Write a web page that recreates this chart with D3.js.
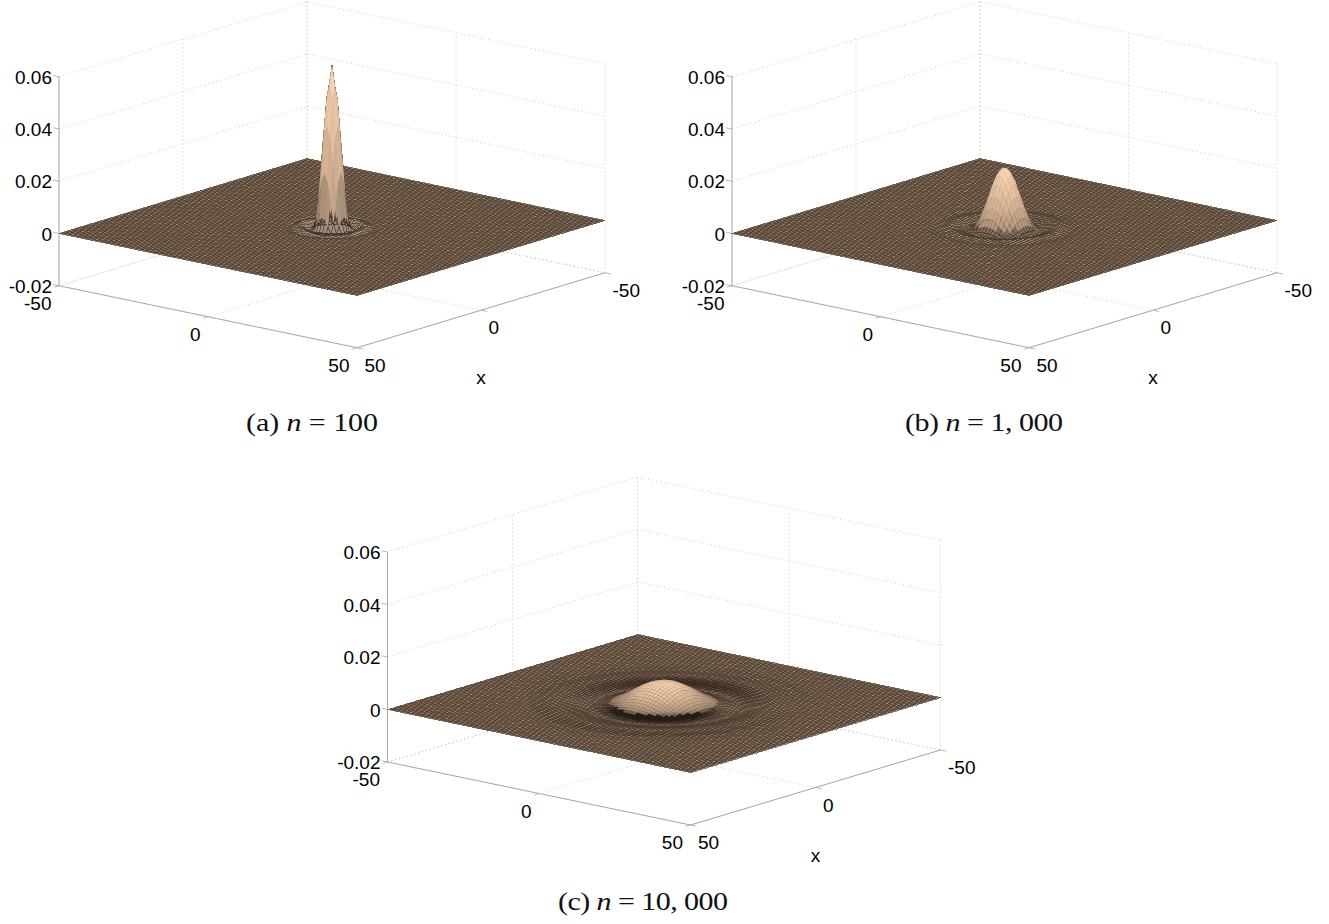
<!DOCTYPE html>
<html><head><meta charset="utf-8">
<script src="https://cdn.jsdelivr.net/npm/d3@7/dist/d3.min.js"></script>
<style>html,body{margin:0;padding:0;background:#fff}svg{display:block}
.tick{font-family:"Liberation Sans",Arial,sans-serif;font-size:19px;fill:#000}
.cap{font-family:"Liberation Serif",serif;font-size:25px;fill:#111}</style>
</head><body><svg id="c" width="1329" height="924"></svg>
<script>
// --- data ---
const zTicks = [-0.02, 0, 0.02, 0.04, 0.06];
const xTicks = [-50, 0, 50];
const yTicks = [-50, 0, 50];
const radiiA = [0,0.5,1,1.5,2,2.5,3,3.5,4,4.5,5,5.5,6,7,8,9,10,11,12];
const surfaceA = [.062,.059,.054,.048,.039,.030,.021,.012,.0045,.001,-.0006,-.0012,-.0012,-.0004,.0005,.0006,.0001,-.0003,0];
const radiiB = [0,1,2,3,4,5,6,7,8,9,10,11,12,13,14,15,16,17,18,19,20];
const surfaceB = [.0227,.0222,.0201,.0168,.0125,.0083,.0046,.0018,0,-.0008,-.001,-.0007,-.0002,.0002,.0004,.0003,.0001,-.0001,-.0002,-.0001,0];
const radiiC = [0,2,4,6,8,10,12,14,16,18,20,22,24,26,28,30,32,34,36,38];
const surfaceC = [.0085,.0083,.0075,.0062,.0046,.0029,.0014,.0003,-.0006,-.0011,-.0011,-.0007,-.0002,.0002,.0004,.0003,.0001,-.0001,-.0001,0];
const captionPrefix = ["(a) ","(b) ","(c) "];
const captionSuffix = [" = 100"," = 1, 000"," = 10, 000"];

const layouts = [
 {cx:332,  cy:227, xv:[-248,75], yv:[298,62], zy:2612, capX:246, capW:132, capY:431, radii:radiiA, heights:surfaceA, dark:250, shadowCap:.18, frontCap:.05, lat:1.2, lift:.3, liftR:10},
 {cx:1004.5,cy:227,xv:[-248,75], yv:[297,62], zy:2612, capX:905, capW:158, capY:431, radii:radiiB, heights:surfaceB, dark:700, shadowCap:.3, frontCap:.08, lat:.5, lift:.12, liftR:17},
 {cx:664,  cy:703.5,xv:[-250,75], yv:[303,63], zy:2625, capX:558, capW:170, capY:910, radii:radiiC, heights:surfaceC, dark:2300, shadowCap:.85, frontCap:.3, lat:.2, lift:.05, liftR:16}
];
const svg = d3.select("#c");
const shade = d3.scaleLinear().domain([0,.35,.7,1]).range(["#0d0704","#a8917b","#d2b092","#fcd6b4"]).clamp(true);
const band = d3.scaleQuantize().domain([0,1]).range(d3.range(0,1.0001,1/22));

layouts.forEach((L,i)=>{
  const g = svg.append("g");
  const px = d3.scaleLinear().domain([-50,50]).range([-L.xv[0]/2, L.xv[0]/2]);
  const py = d3.scaleLinear().domain([-50,50]).range([-L.xv[1]/2, L.xv[1]/2]);
  const qx = d3.scaleLinear().domain([-50,50]).range([-L.yv[0]/2, L.yv[0]/2]);
  const qy = d3.scaleLinear().domain([-50,50]).range([-L.yv[1]/2, L.yv[1]/2]);
  const zs = d3.scaleLinear().domain([0,1]).range([0,-L.zy]);
  const P = (x,y,z)=>[L.cx+px(x)+qx(y), L.cy+py(x)+qy(y)+zs(z)];
  const line = d3.line();
  const zMin = zTicks[0], zMax = zTicks[zTicks.length-1];

  // dotted grid
  const gridPaths = [];
  zTicks.forEach(z=>{ gridPaths.push([P(50,-50,z),P(-50,-50,z),P(-50,50,z)]); });
  xTicks.forEach(x=>{ gridPaths.push([P(x,-50,zMin),P(x,-50,zMax)]); gridPaths.push([P(x,-50,zMin),P(x,50,zMin)]); });
  yTicks.forEach(y=>{ gridPaths.push([P(-50,y,zMin),P(-50,y,zMax)]); gridPaths.push([P(-50,y,zMin),P(50,y,zMin)]); });
  g.append("g").selectAll("path").data(gridPaths).join("path").attr("d",line)
    .attr("fill","none").attr("stroke","#bdbdbd").attr("stroke-width",.8).attr("stroke-dasharray","1 3");

  // solid box edges and ticks
  const axisPaths = [[P(50,-50,zMax),P(50,-50,zMin),P(50,50,zMin),P(-50,50,zMin)]];
  g.append("g").selectAll("path").data(axisPaths).join("path").attr("d",line)
    .attr("fill","none").attr("stroke","#a8a8a8").attr("stroke-width",1);
  const tickPaths = [];
  zTicks.forEach(z=>tickPaths.push([P(50,-50,z),P(50,-52,z)]));
  yTicks.forEach(y=>tickPaths.push([P(50,y,zMin),P(52,y,zMin)]));
  xTicks.forEach(x=>tickPaths.push([P(x,50,zMin),P(x,52,zMin)]));
  g.append("g").selectAll("path").data(tickPaths).join("path").attr("d",line)
    .attr("fill","none").attr("stroke","#a8a8a8").attr("stroke-width",.8);

  const profile = d3.scaleLinear().domain(L.radii).range(L.heights).clamp(true);
  const zTop = d3.max(L.heights);
  const R = d3.max(L.radii);
  const Z = (x,y)=>profile(Math.hypot(x,y));

  // relief cells, split into low ripples and the raised part
  const low=[], high=[];
  const span = d3.range(-Math.ceil(R)-1,Math.ceil(R)+1,1);
  span.forEach(x=>span.forEach(y=>{
    if(Math.hypot(x+.5,y+.5)>R+1) return;
    const a=Z(x,y),b=Z(x+1,y),c=Z(x+1,y+1),d=Z(x,y+1);
    const mean=(a+b+c+d)/4;
    const dzx=((b+c)-(a+d))/2, dzy=((c+d)-(a+b))/2;
    const zn=Math.max(mean/zTop,0);
    const front=Math.max(0,-dzx-.6*dzy);
    const lateral=Math.abs(dzx-dzy)/Math.SQRT2/zTop;
    const pts=[P(x,y,a),P(x+1,y,b),P(x+1,y+1,c),P(x,y+1,d)];
    const order=x+y;
    if(zn<.06){
      low.push({order,pts,shadow:Math.min(L.shadowCap,front*L.dark),
        lift:Math.hypot(x+.5,y+.5)<L.liftR?L.lift:0});
    } else {
      let t=.35+.65*Math.pow(zn,.6);
      t-=Math.min(.2,lateral*L.lat)*(zn<.25?1:.25);
      t-=Math.min(L.frontCap,front*L.dark*.5)*Math.pow(1-zn,4);
      high.push({order,pts,zn,t:band(Math.max(0,Math.min(1,t))),o:Math.max(.12,.75-1.3*Math.pow(zn,.4))});
    }
  }));
  low.sort((p,q)=>p.order-q.order);
  high.sort((p,q)=>p.order-q.order);

  // flat part of the surface, lighter ripple zone, dense mesh following the ripples, shadows
  g.append("path").attr("d",line([P(50,-50,0),P(50,50,0),P(-50,50,0),P(-50,-50,0)])+"Z")
    .attr("fill","#a8917b");
  g.append("g").selectAll("path").data(low.filter(d=>d.lift>0)).join("path")
    .attr("d",d=>line(d.pts)+"Z").attr("fill","#efe0cf").attr("fill-opacity",d=>d.lift);
  const meshStep = d3.range(-50,50.001,1);
  const meshD = meshStep.map(t=>line(meshStep.map(s=>P(t,s,Z(t,s))))+line(meshStep.map(s=>P(s,t,Z(s,t))))).join("");
  g.append("path").attr("d",meshD).attr("fill","none").attr("stroke","#4a392c").attr("stroke-width",.6)
    .attr("shape-rendering","crispEdges");
  g.append("g").selectAll("path").data(low.filter(d=>d.shadow>.02)).join("path")
    .attr("d",d=>line(d.pts)+"Z").attr("fill","#0d0704").attr("fill-opacity",d=>d.shadow);

  // raised part, back to front
  g.append("g").selectAll("path").data(high).join("path")
    .attr("d",d=>line(d.pts)+"Z")
    .attr("fill",d=>shade(d.t))
    .attr("stroke","#3a2a1e").attr("stroke-width",.4).attr("stroke-opacity",d=>d.o)
    .attr("stroke-dasharray",i==0?"1.5 1.5":null);

  // tick labels
  const fmt=v=>String(v);
  const labels=[];
  zTicks.forEach(z=>{const p=P(50,-50,z);labels.push({s:fmt(z),x:p[0]-7,y:p[1]+7,a:"end"});});
  yTicks.forEach(y=>{const p=P(50,y,zMin);labels.push({s:fmt(y),x:p[0]-7.5,y:p[1]+24,a:"end"});});
  xTicks.forEach(x=>{const p=P(x,50,zMin);labels.push({s:fmt(x),x:p[0]+7.5,y:p[1]+24,a:"start"});});
  const xl=P(0,50,zMin); labels.push({s:"x",x:xl[0],y:xl[1]+74,a:"middle"});
  g.append("g").selectAll("text").data(labels).join("text").attr("class","tick")
    .attr("x",d=>d.x).attr("y",d=>d.y).attr("text-anchor",d=>d.a).text(d=>d.s);

  // caption
  const cap=g.append("text").attr("class","cap")
    .attr("transform",`translate(${L.capX},${L.capY}) scale(1.2,1)`)
    .attr("textLength",L.capW/1.2).attr("lengthAdjust","spacing").style("white-space","pre");
  cap.append("tspan").text(captionPrefix[i]);
  cap.append("tspan").attr("font-style","italic").text("n");
  cap.append("tspan").text(captionSuffix[i]);
});
</script></body></html>
